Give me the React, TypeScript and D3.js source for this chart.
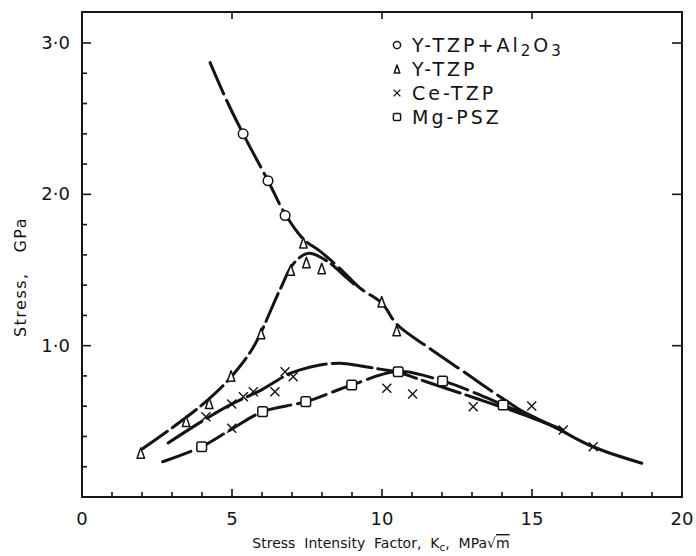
import React from "react";
import * as d3 from "d3";

// Measured points per material (K_c in MPa·√m, stress in GPa)
const alZrPoints: [number, number][] = [[5.37, 2.40], [6.2, 2.09], [6.77, 1.86]];
const yTzpPoints: [number, number][] = [
  [1.96, 0.29], [3.47, 0.50], [4.24, 0.62], [4.97, 0.80], [5.97, 1.08],
  [6.96, 1.50], [7.38, 1.68], [7.48, 1.55], [7.99, 1.51], [9.99, 1.29], [10.49, 1.10],
];
const ceTzpPoints: [number, number][] = [
  [4.13, 0.53], [4.99, 0.454], [4.99, 0.615], [5.38, 0.663], [5.71, 0.696],
  [6.43, 0.696], [6.77, 0.828], [7.04, 0.795], [10.16, 0.718], [11.02, 0.681],
  [13.04, 0.597], [14.99, 0.601], [16.04, 0.443], [17.04, 0.332],
];
const mgPszPoints: [number, number][] = [
  [3.99, 0.332], [6.02, 0.564], [7.46, 0.63], [8.99, 0.74], [10.54, 0.828],
  [12.02, 0.767], [14.04, 0.608],
];

// Hand-fitted trend curves
const envelopeCurve: [number, number][] = [
  [4.27, 2.87], [4.8, 2.63], [5.37, 2.40], [6.2, 2.09], [6.77, 1.87], [7.4, 1.70],
  [7.93, 1.625], [8.6, 1.51], [9.27, 1.38], [10.0, 1.28], [10.5, 1.14], [11.6, 0.98],
  [12.93, 0.80], [13.43, 0.73], [14.6, 0.575],
];
const tailCurve: [number, number][] = [
  [14.6, 0.575], [15.93, 0.443], [17.03, 0.332], [18.66, 0.223],
];
const yTzpCurve: [number, number][] = [
  [2.03, 0.32], [3.5, 0.53], [4.3, 0.66], [5.0, 0.80], [5.71, 0.99], [6.6, 1.37],
  [7.04, 1.54], [7.55, 1.61], [8.2, 1.555], [8.7, 1.47], [9.1, 1.40],
];
const ceTzpCurve: [number, number][] = [
  [2.87, 0.357], [4.16, 0.52], [5.0, 0.615], [6.0, 0.71], [6.82, 0.806], [7.27, 0.84],
  [7.93, 0.872], [8.6, 0.884], [9.3, 0.865], [9.93, 0.845], [10.5, 0.826],
  [11.5, 0.76], [12.5, 0.694], [13.5, 0.627], [14.5, 0.56], [15.3, 0.50], [16.0, 0.445],
];
const mgPszCurve: [number, number][] = [
  [2.69, 0.233], [3.99, 0.332], [5.0, 0.45], [6.02, 0.564], [7.46, 0.63],
  [8.99, 0.74], [10.54, 0.83], [12.02, 0.767], [13.2, 0.68], [14.04, 0.608],
  [15.0, 0.53], [16.0, 0.445],
];

const xMajorTicks = [0, 5, 10, 15, 20];
const yMajorTicks = [1, 2, 3];
const xMinorTicks = d3.range(1, 20);
const yMinorTicks = d3.range(1, 16).map((i) => i * 0.2);

const legendLabels = ["Y-TZP+Al2O3", "Y-TZP", "Ce-TZP", "Mg-PSZ"];
const legendMarkers = ["circle", "triangle", "cross", "square"];

const INK = "#141414";
const FONT = "'DejaVu Sans', sans-serif";

function Marker({ kind, cx, cy, s = 1 }: { kind: string; cx: number; cy: number; s?: number }) {
  if (kind === "circle")
    return <circle cx={cx} cy={cy} r={4.8 * s} fill="#fff" stroke={INK} strokeWidth={1.5} />;
  if (kind === "triangle") {
    const h = 10.5 * s, w = 7.5 * s;
    return (
      <path
        d={`M${cx},${cy - h / 2}L${cx + w / 2},${cy + h / 2}L${cx - w / 2},${cy + h / 2}Z`}
        fill="#fff" stroke={INK} strokeWidth={1.5} strokeLinejoin="round"
      />
    );
  }
  if (kind === "cross") {
    const a = 4.5 * s;
    return (
      <path
        d={`M${cx - a},${cy - a}L${cx + a},${cy + a}M${cx + a},${cy - a}L${cx - a},${cy + a}`}
        stroke={INK} strokeWidth={1.4} fill="none"
      />
    );
  }
  const a = 4.8 * s;
  return (
    <rect x={cx - a} y={cy - a} width={2 * a} height={2 * a} rx={1.8 * s}
      fill="#fff" stroke={INK} strokeWidth={1.5} />
  );
}

export default function App() {
  const W = 696, H = 556;
  const x = d3.scaleLinear().domain([0, 20]).range([82, 682]);
  const y = d3.scaleLinear().domain([0, 3]).range([497, 43]);
  const top = 12;

  const line = d3
    .line<[number, number]>()
    .x((d) => x(d[0]))
    .y((d) => y(d[1]))
    .curve(d3.curveCatmullRom.alpha(0.5));

  const curves: { data: [number, number][]; dash: string }[] = [
    { data: envelopeCurve, dash: "34 7" },
    { data: tailCurve, dash: "none" },
    { data: yTzpCurve, dash: "30 6" },
    { data: ceTzpCurve, dash: "40 6" },
    { data: mgPszCurve, dash: "30 7" },
  ];

  const series: { pts: [number, number][]; kind: string }[] = [
    { pts: alZrPoints, kind: "circle" },
    { pts: yTzpPoints, kind: "triangle" },
    { pts: ceTzpPoints, kind: "cross" },
    { pts: mgPszPoints, kind: "square" },
  ];

  return (
    <svg width={W} height={H} style={{ position: "absolute", left: 0, top: 0, background: "#fff" }}>
      {/* frame */}
      <rect x={x(0)} y={top} width={x(20) - x(0)} height={y(0) - top}
        fill="none" stroke={INK} strokeWidth={2} />

      {/* left ticks */}
      {yMinorTicks.map((v) => {
        const major = Math.abs(v - Math.round(v)) < 1e-6;
        return <line key={"yl" + v} x1={x(0)} x2={x(0) + (major ? 9 : 5)} y1={y(v)} y2={y(v)}
          stroke={INK} strokeWidth={1.6} />;
      })}
      {/* right ticks */}
      {yMajorTicks.map((v) => (
        <line key={"yr" + v} x1={x(20)} x2={x(20) - 10} y1={y(v)} y2={y(v)} stroke={INK} strokeWidth={1.6} />
      ))}
      {/* bottom ticks */}
      {xMinorTicks.map((v) => {
        const major = v % 5 === 0;
        return <line key={"xb" + v} x1={x(v)} x2={x(v)} y1={y(0)} y2={y(0) - (major ? 8 : 5)}
          stroke={INK} strokeWidth={1.6} />;
      })}
      {/* top ticks */}
      {[5, 10, 15].map((v) => (
        <line key={"xt" + v} x1={x(v)} x2={x(v)} y1={top} y2={top + 7} stroke={INK} strokeWidth={1.6} />
      ))}

      {/* tick labels */}
      {yMajorTicks.map((v) => (
        <text key={"ylab" + v} x={70} y={y(v) + 6} textAnchor="end" fontFamily={FONT}
          fontSize={18} fill={INK}>{v.toFixed(0)}·0</text>
      ))}
      {xMajorTicks.map((v) => (
        <text key={"xlab" + v} x={x(v)} y={525} textAnchor="middle" fontFamily={FONT}
          fontSize={18} fill={INK}>{v}</text>
      ))}

      {/* axis titles */}
      <text x={381} y={548} textAnchor="middle" fontFamily={FONT} fontSize={14}
        letterSpacing={0} fill={INK} style={{ whiteSpace: "pre" }}>
        {"Stress  Intensity  Factor,  K"}
        <tspan fontSize={10.5} dy={3}>c</tspan>
        <tspan dy={-3}>{",  MPa√"}</tspan>
        <tspan style={{ textDecoration: "overline" }}>m</tspan>
      </text>
      <text transform={`translate(26,${277}) rotate(-90)`} textAnchor="middle" fontFamily={FONT}
        fontSize={16} letterSpacing={1.5} fill={INK} style={{ whiteSpace: "pre" }}>
        {"Stress,   GPa"}
      </text>

      {/* trend curves */}
      {curves.map((c, i) => (
        <path key={"c" + i} d={line(c.data) ?? ""} fill="none" stroke={INK} strokeWidth={3}
          strokeDasharray={c.dash} strokeLinecap="round" />
      ))}

      {/* data markers */}
      {series.map((s) =>
        s.pts.map((p, j) => <Marker key={s.kind + j} kind={s.kind} cx={x(p[0])} cy={y(p[1])} />)
      )}

      {/* legend */}
      {legendLabels.map((lab, i) => {
        const ly = 45 + i * 24;
        return (
          <g key={"lg" + i}>
            <Marker kind={legendMarkers[i]} cx={397} cy={ly} s={0.75} />
            <text x={412} y={ly + 7} fontFamily={FONT} fontSize={19} letterSpacing={3} fill={INK}>
              {i === 0 ? (
                <>
                  Y-TZP+Al<tspan fontSize={15} dy={4}>2</tspan>
                  <tspan dy={-4}>O</tspan>
                  <tspan fontSize={15} dy={4}>3</tspan>
                </>
              ) : (
                lab
              )}
            </text>
          </g>
        );
      })}
    </svg>
  );
}
